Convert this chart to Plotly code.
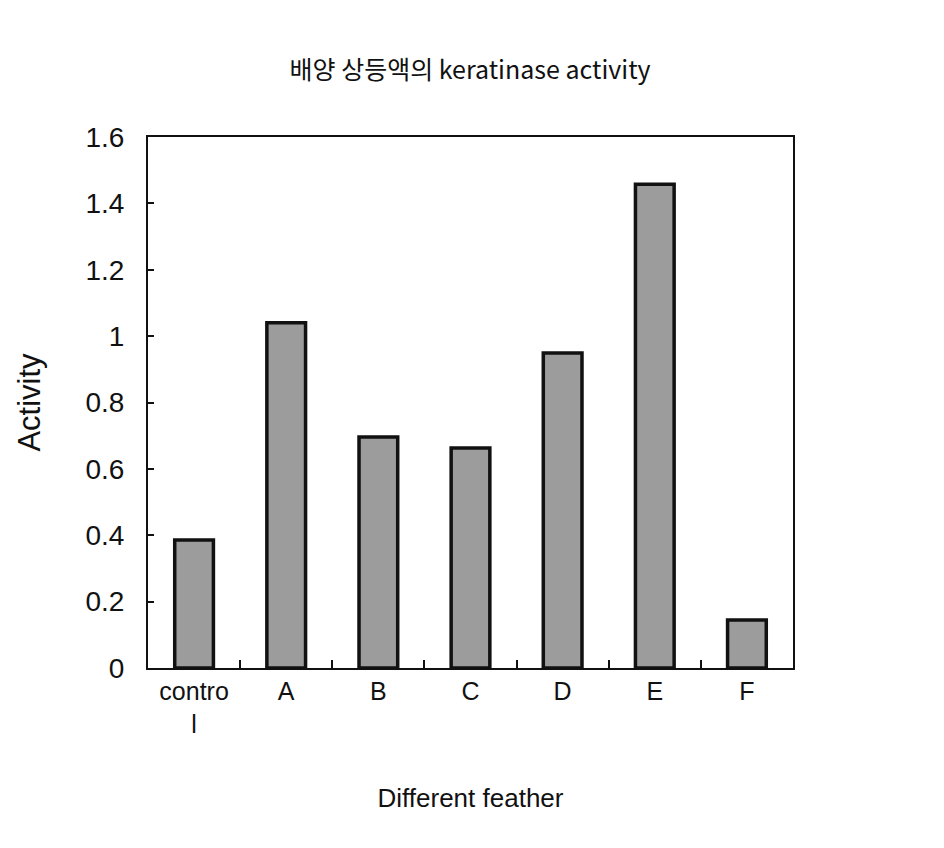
import plotly.graph_objects as go

categories = ["contro<br>l", "A", "B", "C", "D", "E", "F"]
activity = [0.386, 1.04, 0.696, 0.663, 0.949, 1.458, 0.145]
y_ticks = [0, 0.2, 0.4, 0.6, 0.8, 1, 1.2, 1.4, 1.6]
y_tick_labels = ["0", "0.2", "0.4", "0.6", "0.8", "1", "1.2", "1.4", "1.6"]

fig = go.Figure()
fig.add_trace(go.Bar(
    x=categories, y=activity,
    marker=dict(color="#9c9c9c", line=dict(color="#111111", width=3.5)),
    width=0.42,
))

fig.update_layout(
    width=944, height=848,
    margin=dict(l=148, r=151, t=137, b=180),
    paper_bgcolor="white", plot_bgcolor="white",
    showlegend=False,
    font=dict(family="Noto Sans CJK KR, Liberation Sans, Arial", color="#111111"),
    title=dict(text="배양 상등액의 keratinase activity", x=0.498, xanchor="center",
               y=0.917, yanchor="middle", font=dict(size=25, family="Noto Sans CJK KR")),
)
fig.update_xaxes(
    showline=True, linecolor="#111111", linewidth=2, mirror=True,
    ticks="inside", ticklen=8, tickwidth=1.5, tickcolor="#111111",
    tickson="boundaries",
    tickfont=dict(size=25, family="Liberation Sans, Arial"),
    title=dict(text="Different feather", font=dict(size=26, family="Liberation Sans, Arial"), standoff=52),
    showgrid=False,
)
fig.update_yaxes(
    range=[0, 1.6], showline=True, linecolor="#111111", linewidth=2, mirror=True,
    ticks="inside", ticklen=6, tickwidth=1.5, tickcolor="#111111",
    tickvals=y_ticks, ticktext=y_tick_labels,
    ticklabelstandoff=16,
    tickfont=dict(size=28, family="Liberation Sans, Arial"),
    title=dict(text="Activity", font=dict(size=31, family="Liberation Sans, Arial"), standoff=36),
    showgrid=False, zeroline=False,
)

fig.write_html("out.html")
